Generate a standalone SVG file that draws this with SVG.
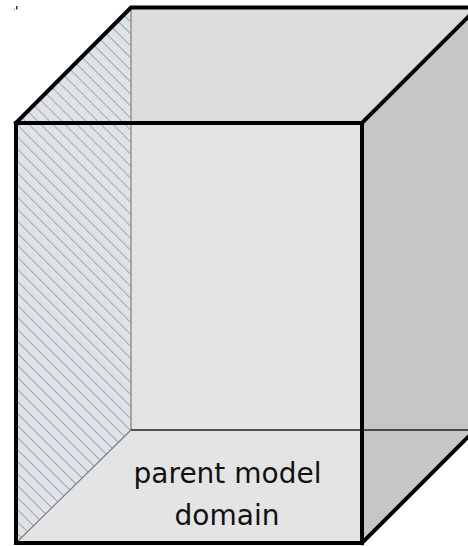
<svg xmlns="http://www.w3.org/2000/svg" width="468" height="546" viewBox="0 0 468 546">
  <defs>
    <pattern id="hatch" patternUnits="userSpaceOnUse" width="8.5" height="8.5" patternTransform="rotate(-45)">
      <rect width="8.5" height="8.5" fill="#e2e2e2"/>
      <line x1="0" y1="0" x2="0" y2="8.5" stroke="#62a0d2" stroke-width="1.5"/>
    </pattern>
    <style>
      .thick { fill: none; stroke: #000; stroke-width: 4; stroke-linejoin: miter; stroke-linecap: square; }
      .thin { fill: none; stroke: #808080; stroke-width: 1.2; }
      .label { font-family: "DejaVu Sans", sans-serif; font-size: 28px; fill: #111; text-anchor: middle; }
    </style>
  </defs>
  <rect width="468" height="546" fill="#ffffff"/>
  <g id="back-face"><polygon points="131,7.5 477,7.5 477,430 131,430" fill="#e4e4e4"/></g>
  <g id="bottom-face"><polygon points="131,430 477,430 362,543 16,543" fill="#e4e4e4"/></g>
  <g id="top-face"><polygon points="16,123 131,7.5 477,7.5 362,123" fill="#dcdcdc"/></g>
  <g id="left-face"><polygon points="16,123 131,7.5 131,430 16,543" fill="url(#hatch)"/></g>
  <g id="right-face"><polygon points="362,123 477,7.5 477,430 362,543" fill="#c6c6c6"/></g>
  <g id="edges">
    <line class="thin" x1="131" y1="7.5" x2="131" y2="430"/>
    <line class="thin" x1="131" y1="430" x2="16" y2="543"/>
    <line x1="131" y1="430" x2="468" y2="430" stroke="#222" stroke-width="1.3"/>
    <polyline class="thick" points="16,123 131,7.5 470,7.5"/>
    <line class="thick" x1="362" y1="123" x2="470" y2="15"/>
    <line class="thick" x1="362" y1="543" x2="470" y2="435"/>
    <rect class="thick" x="16" y="123" width="346" height="420"/>
  </g>
  <g id="label">
    <text class="label" x="227.5" y="483">parent model</text>
    <text class="label" x="227" y="525">domain</text>
  </g>
  <g id="mark">
    <rect x="16" y="6" width="1.5" height="3.5" fill="#333"/>
    <rect x="14" y="8.5" width="1" height="1" fill="#666"/>
  </g>
</svg>
